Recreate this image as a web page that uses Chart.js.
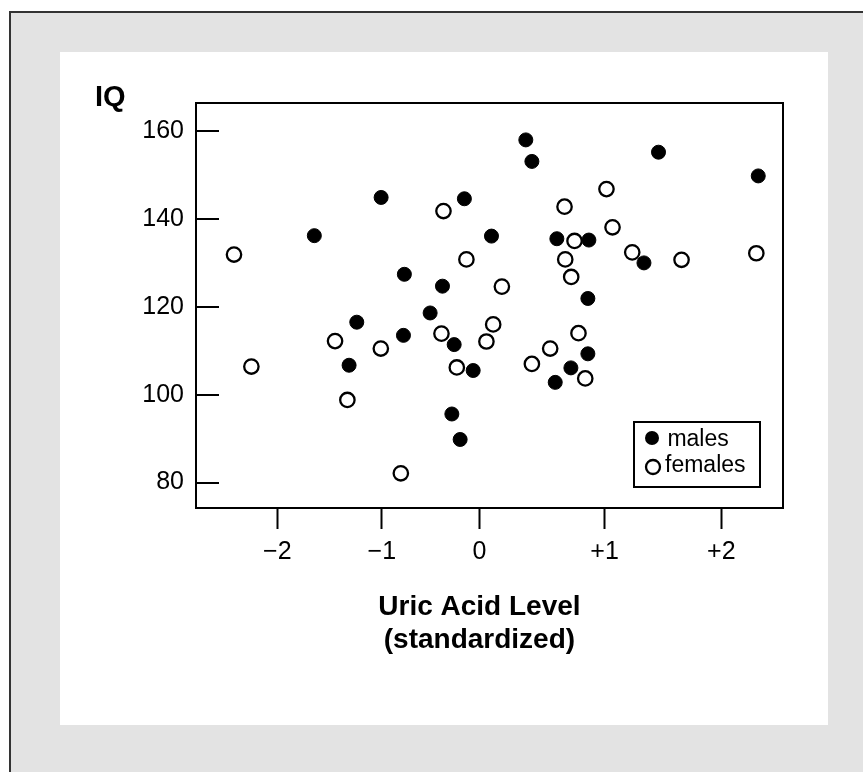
<!DOCTYPE html>
<html>
<head>
<meta charset="utf-8">
<script src="https://cdn.jsdelivr.net/npm/chart.js@4.4.1/dist/chart.umd.min.js"></script>
<style>
  body { margin: 0; background: #fff; overflow: hidden; }
  #frame { position: absolute; left: 9px; top: 11px; width: 900px; height: 800px; background: #e3e3e3; border-left: 2px solid #333; border-top: 2px solid #333; }
  #panel { position: absolute; left: 60px; top: 52px; width: 768px; height: 673px; background: #fff; }
  #wrap { position: absolute; left: 0; top: 0; width: 863px; height: 772px; }
</style>
</head>
<body>
<div id="frame"></div>
<div id="panel"></div>
<div id="wrap"><canvas id="scatter"></canvas></div>
<script>
var xTickVals = [-2, -0.966, 0, 1.238, 2.394]
var xTickLabels = ['\u22122', '\u22121', '0', '+1', '+2']
var yTickVals = [80, 100, 120, 140, 160]

var maleX = [-1.634, -0.973, -0.743, -0.366, -0.488, -1.214, -1.290, -0.752, -0.250, -0.062, -0.273, -0.191, -0.149, 0.119, 0.459, 0.519, 0.766, 1.083, 1.628, 1.073, 0.750, 0.905, 1.073, 1.772, 2.759]
var maleY = [136.2, 144.9, 127.4, 124.7, 118.6, 116.5, 106.7, 113.5, 111.4, 105.5, 95.6, 89.8, 144.6, 136.1, 158.0, 153.1, 135.5, 135.2, 130.0, 121.9, 102.8, 106.1, 109.3, 155.2, 149.8]

var femaleX = [-2.429, -2.257, -1.429, -1.307, -0.976, -0.778, -0.376, -0.356, -0.224, -0.129, 0.069, 0.136, 0.222, 0.519, 0.700, 0.842, 0.849, 0.908, 0.941, 0.980, 1.047, 1.257, 1.317, 1.512, 2.000, 2.740]
var femaleY = [131.9, 106.4, 112.2, 98.8, 110.5, 82.1, 113.9, 141.8, 106.2, 130.8, 112.1, 116.0, 124.6, 107.0, 110.5, 142.8, 130.8, 126.8, 135.0, 114.0, 103.7, 146.8, 138.1, 132.4, 130.7, 132.2]

var seriesLabels = ['males', 'females']
var yTitle = 'IQ'
var xTitle = ['Uric Acid Level', '(standardized)']

function toPoints(xs, ys) {
  var pts = []
  for (var i = 0; i < xs.length; i++) {
    pts.push({x: xs[i], y: ys[i]})
  }
  return pts
}

var font = 'Liberation Sans, Arial, Helvetica, sans-serif'

// frame, inward y ticks, titles and the boxed legend
var decor = {
  id: 'decor',
  beforeDatasetsDraw: function(chart) {
    var ctx = chart.ctx
    var a = chart.chartArea
    var y = chart.scales.y
    ctx.save()
    ctx.strokeStyle = '#000'
    ctx.lineWidth = 2
    ctx.strokeRect(a.left, a.top, a.right - a.left, a.bottom - a.top)
    y.ticks.forEach(function(t) {
      var py = Math.round(y.getPixelForValue(t.value))
      ctx.beginPath()
      ctx.moveTo(a.left, py)
      ctx.lineTo(a.left + 23, py)
      ctx.stroke()
    })
    ctx.restore()
  },
  afterDraw: function(chart) {
    var ctx = chart.ctx
    var a = chart.chartArea
    ctx.save()
    ctx.fillStyle = '#000'
    ctx.font = 'bold 29px ' + font
    ctx.textAlign = 'left'
    ctx.textBaseline = 'alphabetic'
    ctx.fillText(yTitle, 95, 106)

    ctx.font = 'bold 28px ' + font
    ctx.textAlign = 'center'
    var cx = chart.scales.x.getPixelForValue(0)
    ctx.fillText(xTitle[0], cx, a.bottom + 107)
    ctx.fillText(xTitle[1], cx, a.bottom + 140)

    // legend
    var bx = a.right - 149, by = a.bottom - 86, bw = 126, bh = 65
    ctx.fillStyle = '#fff'
    ctx.fillRect(bx, by, bw, bh)
    ctx.lineWidth = 2
    ctx.strokeStyle = '#000'
    ctx.strokeRect(bx, by, bw, bh)
    var ds = chart.data.datasets
    ctx.font = '23px ' + font
    ctx.textAlign = 'left'
    ctx.beginPath()
    ctx.arc(bx + 18, by + 16, 7, 0, Math.PI * 2)
    ctx.fillStyle = ds[0].backgroundColor
    ctx.fill()
    ctx.fillStyle = '#000'
    ctx.fillText(' ' + ds[0].label, bx + 27, by + 24)
    ctx.beginPath()
    ctx.arc(bx + 19, by + 45, 7, 0, Math.PI * 2)
    ctx.fillStyle = ds[1].backgroundColor
    ctx.fill()
    ctx.lineWidth = 2.3
    ctx.stroke()
    ctx.fillStyle = '#000'
    ctx.fillText(ds[1].label, bx + 31, by + 50)
    ctx.restore()
  }
}

new Chart('scatter', {
  type: 'scatter',
  data: {
    datasets: [
      {
        label: seriesLabels[0],
        data: toPoints(maleX, maleY),
        backgroundColor: '#000',
        borderColor: '#000',
        borderWidth: 1,
        pointRadius: 7,
      },
      {
        label: seriesLabels[1],
        data: toPoints(femaleX, femaleY),
        backgroundColor: '#fff',
        borderColor: '#000',
        borderWidth: 2.3,
        pointRadius: 7.2,
      },
    ],
  },
  options: {
    responsive: true,
    maintainAspectRatio: false,
    animation: false,
    layout: {
      padding: {left: 100, top: 103, right: 80, bottom: 164},
    },
    plugins: {
      legend: {display: false},
      tooltip: {enabled: false},
    },
    scales: {
      x: {
        type: 'linear',
        min: -2.805,
        max: 3.004,
        afterBuildTicks: function(scale) {
          scale.ticks = xTickVals.map(function(v) { return {value: v} })
        },
        afterFit: function(scale) { scale.height = 100 },
        border: {display: false},
        grid: {
          drawOnChartArea: false,
          drawTicks: true,
          tickLength: 21,
          tickWidth: 2,
          tickColor: '#000',
        },
        ticks: {
          color: '#000',
          padding: 8,
          maxRotation: 0,
          font: {family: font, size: 25},
          callback: function(v, i) { return xTickLabels[i] },
        },
      },
      y: {
        min: 74.2,
        max: 166.4,
        afterBuildTicks: function(scale) {
          scale.ticks = yTickVals.map(function(v) { return {value: v} })
        },
        afterFit: function(scale) { scale.width = 96 },
        border: {display: false},
        grid: {display: false, drawTicks: false},
        ticks: {
          color: '#000',
          padding: 12,
          font: {family: font, size: 25},
        },
      },
    },
  },
  plugins: [decor],
})
</script>
</body>
</html>
